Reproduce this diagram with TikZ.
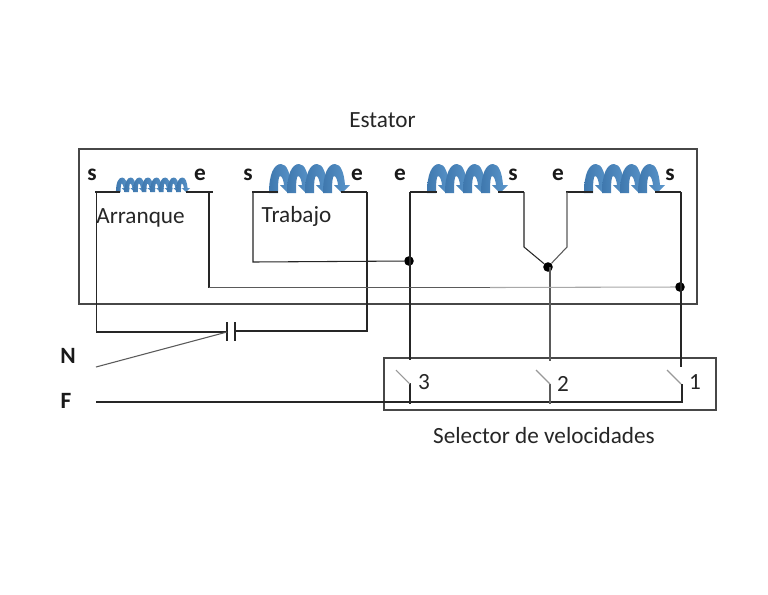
\documentclass[tikz,border=0pt]{standalone}
\usepackage{fontspec}
\setmainfont{Carlito}
\definecolor{coilleft}{HTML}{3F78AE}
\definecolor{coilright}{HTML}{5C97CC}
\definecolor{wirecol}{HTML}{262626}
\definecolor{midwire}{HTML}{5A5A5A}
\definecolor{palewire}{HTML}{A8A8A8}
\tikzset{
  wire/.style={draw=wirecol,line width=0.8pt},
  midline/.style={draw=midwire,line width=0.8pt},
  paleline/.style={draw=palewire,line width=0.8pt},
  frameBox/.style={draw=wirecol!85,line width=0.8pt},
  lbl/.style={inner sep=0pt,font=\fontsize{17.4}{20}\selectfont,text=black!85},
  term/.style={inner sep=0pt,font=\fontsize{17.5}{20}\selectfont\bfseries,text=black!90},
  dot/.style={circle,fill=black,inner sep=0pt,minimum size=7.2pt},
  coilloop/.style={left color=coilleft,right color=coilright,draw=none},
}
% #1 x start, #2 baseline y, #3 pitch, #4 x scale, #5 y scale, #6 loops
\newcommand{\coilat}[6]{%
  \foreach \k in {1,...,#6}{%
    \pgfmathsetmacro{\xa}{#1+(\k-1)*#3}
    \begin{scope}[shift={(\xa,#2)},xscale=#4,yscale=#5]
      \path[coilloop] (-3,0) .. controls (-3,-19) and (2,-29) .. (9,-29)
        .. controls (15,-29) and (18,-20) .. (19,-8)
        -- (24,-8) -- (16,0) -- (8,-8) -- (12,-8)
        .. controls (11.5,-13) and (10,-17) .. (8,-17)
        .. controls (6.5,-17) and (6,-10) .. (6,0) -- cycle;
    \end{scope}
  }%
}
\begin{document}
\begin{tikzpicture}[x=0.75pt,y=-0.75pt]
\useasboundingbox (0,0) rectangle (768,594);
\fill[white] (0,0) rectangle (768,594);

% frames
\draw[frameBox] (79,149) rectangle (697,304);
\draw[frameBox] (384,358) rectangle (716,410);

% coils
\coilat{117.5}{192}{8.6}{0.52}{0.5}{8}
\coilat{272}{193}{18}{1}{1}{4}
\coilat{430}{193}{18}{1}{1}{4}
\coilat{587}{193}{18}{1}{1}{4}

% junctions and free ends
\node[dot] (j3) at (409,261) {};
\node[dot] (j2) at (548,267) {};
\node[dot] (j1) at (680,287) {};
\coordinate (capL) at (227,332);
\coordinate (capR) at (235,331);
\coordinate (nEnd) at (96,367);
\coordinate (fEnd) at (96,402);

% winding leads
\draw[wire] (95,192) -- (120,192);
\draw[wire] (186,192) -- (213,192);
\draw[wire] (252,192) -- (278,192);
\draw[wire] (341,192) -- (367,192);
\draw[wire] (410,192) -- (437,192);
\draw[wire] (498,192) -- (524,192);
\draw[wire] (566,192) -- (593,192);
\draw[wire] (655,192) -- (681,192);

% wires
\draw[wire] (96.5,192) -- (96.5,332) -- (capL);
\draw[wire] (capR) -- (367,331) -- (367,192);
\draw[wire] (253,192) -- (253,262) -- (j3);
\draw[wire] (410,192) -- (410,360);
\draw[wire] (524,192) -- (524,247) -- (j2);
\draw[midline] (567,192) -- (567,247) -- (j2);
\draw[midline] (550,267) -- (550,361);
\draw[wire] (681,192) -- (681,367);
\draw[wire] (209,192) -- (209,287.5);
\draw[midline] (209,287.5) -- (490,287.5);
\draw[paleline] (490,287.5) -- (j1);
% capacitor
\draw[wire] (227,322) -- (227,341);
\draw[wire] (235,322) -- (235,341);
\draw[midline] (nEnd) -- (capL);
% feed
\draw[wire] (fEnd) -- (682,402) -- (682,384);
\draw[wire] (410,383) -- (410,404);
\draw[midline] (550,384) -- (550,404);
% contacts
\draw[paleline,draw=gray!80] (396,370) -- (410,384);
\draw[paleline,draw=gray!80] (536,370) -- (550,384);
\draw[paleline,draw=gray!80] (667,370) -- (681,384);

% labels
\node[lbl] (estator) at (382.5,120) {Estator};
\node[lbl] (arr) at (140.5,218) {Arranque};
\node[lbl] (trab) at (296.5,216) {Trabajo};
\node[lbl] (n3) at (424,382) {3};
\node[lbl] (n2) at (563,384) {2};
\node[lbl] (n1) at (695,382) {1};
\node[lbl] (sel) at (544,436) {Selector de velocidades};
\node[term] (ts1) at (92,175) {s};
\node[term] (te1) at (200,175) {e};
\node[term] (ts2) at (248,175) {s};
\node[term] (te2) at (357,175) {e};
\node[term] (te3) at (400,175) {e};
\node[term] (ts3) at (513,175) {s};
\node[term] (te4) at (558,175) {e};
\node[term] (ts4) at (670,175) {s};
\node[term] (nn) at (68,356) {N};
\node[term] (ff) at (66,401) {F};
\end{tikzpicture}
\end{document}
